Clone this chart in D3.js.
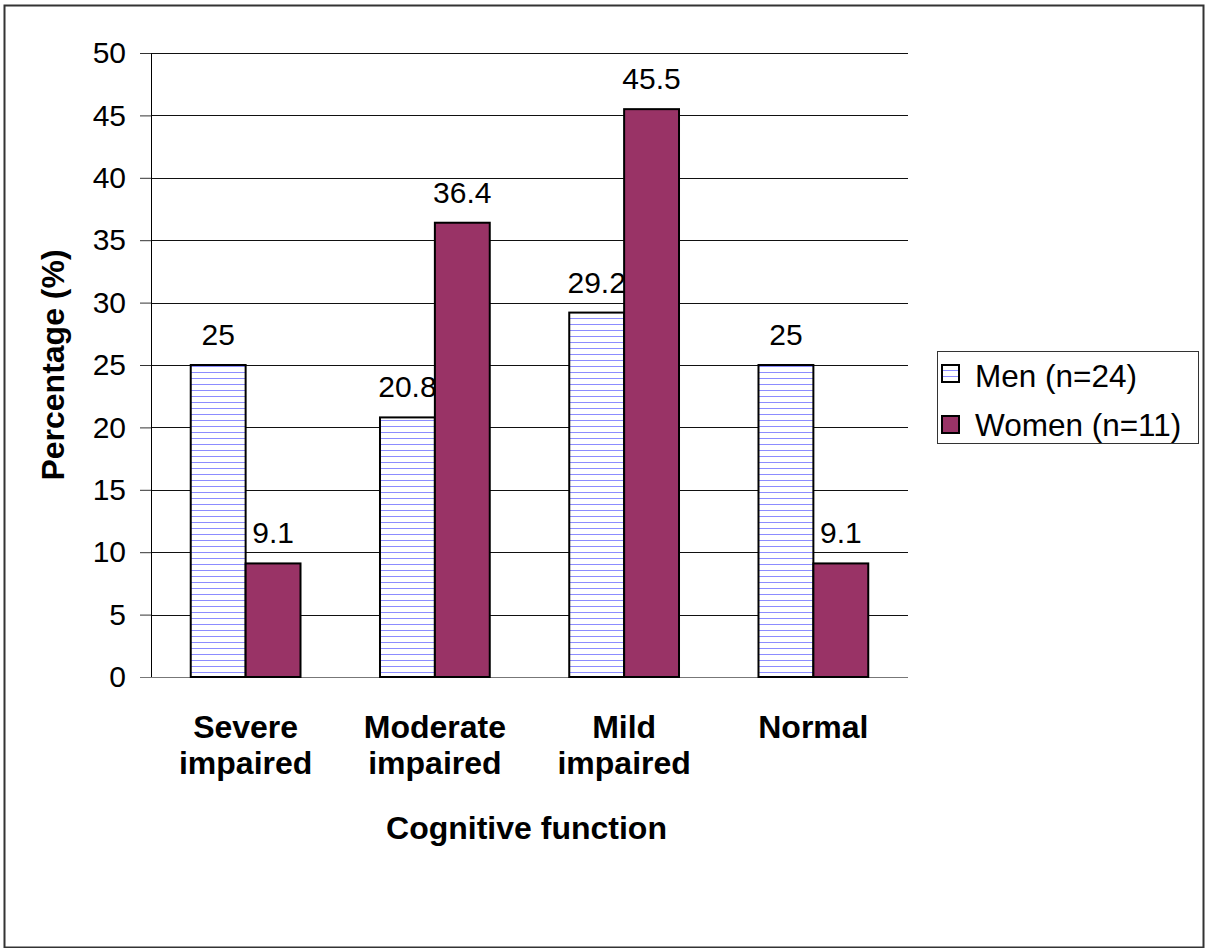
<!DOCTYPE html>
<html>
<head>
<meta charset="utf-8">
<script src="https://cdn.jsdelivr.net/npm/d3@7"></script>
<style>
  body { margin: 0; background: #fff; }
  svg { display: block; font-family: 'Liberation Sans', Arial, sans-serif; }
</style>
</head>
<body>
<div id="chart"></div>
<script>
// data
let categories = [['Severe', 'impaired'], ['Moderate', 'impaired'], ['Mild', 'impaired'], ['Normal']]
let seriesNames = ['Men (n=24)', 'Women (n=11)']
let men = [25, 20.8, 29.2, 25]
let women = [9.1, 36.4, 45.5, 9.1]
let yTicks = [0, 5, 10, 15, 20, 25, 30, 35, 40, 45, 50]

let w = 1205,
  h = 948
let margin = { top: 53, left: 151, right: 297, bottom: 271 }
let pw = w - margin.left - margin.right,
  ph = h - margin.top - margin.bottom

let svg = d3.select('#chart').append('svg').attr('width', w).attr('height', h)

// hatch for men bars
let pat = svg.append('defs').append('pattern')
  .attr('id', 'hatch').attr('patternUnits', 'userSpaceOnUse')
  .attr('width', 8).attr('height', 6)
pat.append('rect').attr('width', 8).attr('height', 6).attr('fill', '#fff')
pat.append('line').attr('x1', 0).attr('x2', 8).attr('y1', 1.5).attr('y2', 1.5)
  .attr('stroke', '#8c8cff').attr('stroke-width', 1)

// outer frame
svg.append('rect').attr('x', 4.5).attr('y', 5.5).attr('width', 1199).attr('height', 942)
  .attr('fill', 'none').attr('stroke', '#333').attr('stroke-width', 2)

let g = svg.append('g').attr('transform', `translate(${margin.left}, ${margin.top})`)

let y = d3.scaleLinear().domain([0, 50]).range([ph, 0])
let x0 = d3.scaleBand().domain(d3.range(categories.length)).range([0, pw])
let x1 = d3.scaleBand().domain(seriesNames)
  .range([x0.bandwidth() * 0.21, x0.bandwidth() * 0.79])

// gridlines
g.selectAll('.grid').data(yTicks.slice(1)).enter().append('line').classed('grid', true)
  .attr('x1', 0).attr('x2', pw)
  .attr('y1', d => Math.round(y(d)) + 0.5).attr('y2', d => Math.round(y(d)) + 0.5)
  .attr('stroke', '#111').attr('stroke-width', 1)

// y axis
let yAxis = d3.axisLeft(y).tickValues(yTicks).tickSizeOuter(0).tickSizeInner(11).tickPadding(14)
let ya = g.append('g').classed('axis yAxis', true).call(yAxis)
ya.select('.domain').attr('stroke', '#000')
ya.selectAll('.tick line').attr('stroke', '#333')
ya.selectAll('.tick text').attr('font-size', '30px').attr('fill', '#000')
  .attr('font-family', "'Liberation Sans', Arial, sans-serif")

// x baseline
g.append('line').attr('x1', -11).attr('x2', pw)
  .attr('y1', y(0) + 0.5).attr('y2', y(0) + 0.5).attr('stroke', '#777')

// bars
let fills = ['url(#hatch)', '#993366']
let rows = categories.map((c, i) => [
  { s: seriesNames[0], v: men[i], k: 0 },
  { s: seriesNames[1], v: women[i], k: 1 }
])
let groups = g.selectAll('.cat').data(rows).enter().append('g').classed('cat', true)
  .attr('transform', (d, i) => `translate(${x0(i)}, 0)`)
groups.selectAll('.bar').data(d => d).enter().append('rect').classed('bar', true)
  .attr('x', d => x1(d.s)).attr('width', x1.bandwidth())
  .attr('y', d => y(d.v)).attr('height', d => y(0) - y(d.v))
  .attr('fill', d => fills[d.k]).attr('stroke', '#000').attr('stroke-width', 2)

// value labels
groups.selectAll('.label').data(d => d).enter().append('text').classed('label', true)
  .text(d => d.v).attr('x', d => x1(d.s) + x1.bandwidth() / 2).attr('y', d => y(d.v) - 20)
  .attr('text-anchor', 'middle').attr('font-size', '30px')

// category labels
groups.each(function (d, i) {
  let t = d3.select(this).append('text').attr('text-anchor', 'middle')
    .attr('font-size', '32px').attr('font-weight', 'bold')
  categories[i].forEach((line, j) => {
    t.append('tspan').attr('x', x0.bandwidth() / 2).attr('y', ph + 61 + j * 36).text(line)
  })
})

// axis titles
g.append('text').text('Cognitive function').attr('x', pw / 2 - 3).attr('y', ph + 162)
  .attr('text-anchor', 'middle').attr('font-size', '32px').attr('font-weight', 'bold')
svg.append('text').text('Percentage (%)').attr('transform', 'translate(64, 365) rotate(-90)')
  .attr('text-anchor', 'middle').attr('font-size', '32px').attr('font-weight', 'bold')

// legend
let lg = svg.append('g').attr('transform', 'translate(937, 351)')
lg.append('rect').attr('x', 0.5).attr('y', 0.5).attr('width', 261).attr('height', 92)
  .attr('fill', '#fff').attr('stroke', '#333')
seriesNames.forEach((s, i) => {
  lg.append('rect').attr('x', 5).attr('y', 14 + i * 51).attr('width', 17).attr('height', 17)
    .attr('fill', fills[i]).attr('stroke', '#000').attr('stroke-width', 2)
  lg.append('text').text(s).attr('x', 38).attr('y', 36 + i * 49).attr('font-size', '31.5px')
})
</script>
</body>
</html>
